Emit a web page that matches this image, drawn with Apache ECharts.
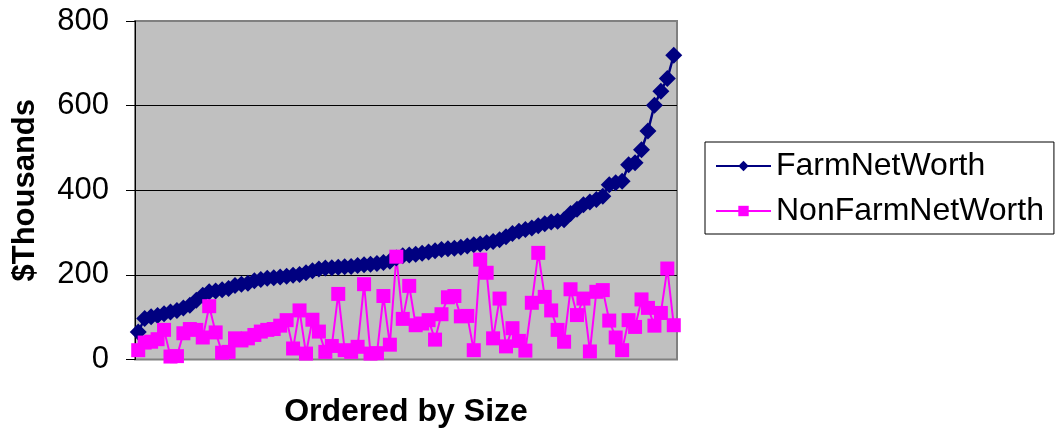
<!DOCTYPE html>
<html>
<head>
<meta charset="utf-8">
<script src="https://cdn.jsdelivr.net/npm/echarts@6/dist/echarts.min.js"></script>
<style>
html,body{margin:0;padding:0;background:#fff;}
#chart{width:1055px;height:434px;}
</style>
</head>
<body>
<div id="chart"></div>
<script>
const farmNetWorth = [65,97,101,104,108,112,116,122,128,140,152,160,162,165,168,175,178,180,186,189,
  192,193,195,197,199,201,205,210,214,216,217,218,219,220,222,224,225,227,229,232,
  240,245,247,249,251,254,257,260,262,263,265,268,271,273,276,279,283,290,298,303,
  307,311,316,321,325,327,330,345,355,366,372,378,386,413,418,421,460,465,496,540,
  601,634,664,719];
const nonFarmNetWorth = [22,40,42,48,70,7,8,62,72,70,52,126,64,16,18,50,45,50,58,66,
  70,72,80,93,26,116,14,94,66,18,32,155,22,18,30,178,14,15,150,35,
  243,96,174,81,85,93,47,107,147,150,102,103,22,236,205,50,144,31,74,44,
  21,134,252,148,116,70,42,166,105,144,19,160,164,92,52,22,93,77,142,122,
  80,110,215,81];
const categories = farmNetWorth.map((_, i) => String(i + 1));
const yTicks = [0, 200, 400, 600, 800];

const chart = echarts.init(document.getElementById('chart'));
const font = "'Liberation Sans', Arial, sans-serif";
chart.setOption({
  animation: false,
  textStyle: {fontFamily: font},
  grid: {left: 135, right: 378, top: 21, bottom: 74.5, show: true,
    backgroundColor: '#C0C0C0', borderColor: '#808080', borderWidth: 2},
  legend: {
    orient: 'vertical', left: 705, top: 142,
    padding: [8, 10, 7, 10], itemGap: 13, itemWidth: 55, itemHeight: 13,
    borderColor: '#000', borderWidth: 1, backgroundColor: '#fff',
    textStyle: {fontSize: 32, color: '#000', fontFamily: font},
    data: ['FarmNetWorth', 'NonFarmNetWorth']
  },
  xAxis: {
    type: 'category', data: categories, boundaryGap: true,
    axisLabel: {show: false}, axisTick: {show: false}, axisLine: {show: false},
    name: 'Ordered by Size', nameLocation: 'middle', nameGap: 37,
    nameTextStyle: {fontSize: 32, fontWeight: 'bold', color: '#000', fontFamily: font}
  },
  yAxis: {
    type: 'value', min: yTicks[0], max: yTicks[yTicks.length - 1], interval: 200,
    axisLine: {show: true, lineStyle: {color: '#000', width: 1}},
    axisTick: {show: true, length: 9, lineStyle: {color: '#000'}},
    axisLabel: {fontSize: 31, color: '#000', margin: 26, fontFamily: font},
    splitLine: {show: true, lineStyle: {color: ['#808080', '#000', '#000', '#000', '#808080'], width: 1}},
    name: '$Thousands', nameLocation: 'middle', nameGap: 94, nameRotate: 90,
    nameTextStyle: {fontSize: 31, fontWeight: 'bold', color: '#000', fontFamily: font}
  },
  series: [
    {name: 'FarmNetWorth', type: 'line', data: farmNetWorth, showAllSymbol: true,
      symbol: 'diamond', symbolSize: 17, color: '#000080',
      lineStyle: {color: '#000080', width: 2.5}, itemStyle: {color: '#000080'}},
    {name: 'NonFarmNetWorth', type: 'line', data: nonFarmNetWorth, showAllSymbol: true,
      symbol: 'rect', symbolSize: 14, color: '#FF00FF',
      lineStyle: {color: '#FF00FF', width: 2}, itemStyle: {color: '#FF00FF'}}
  ]
});
</script>
</body>
</html>
